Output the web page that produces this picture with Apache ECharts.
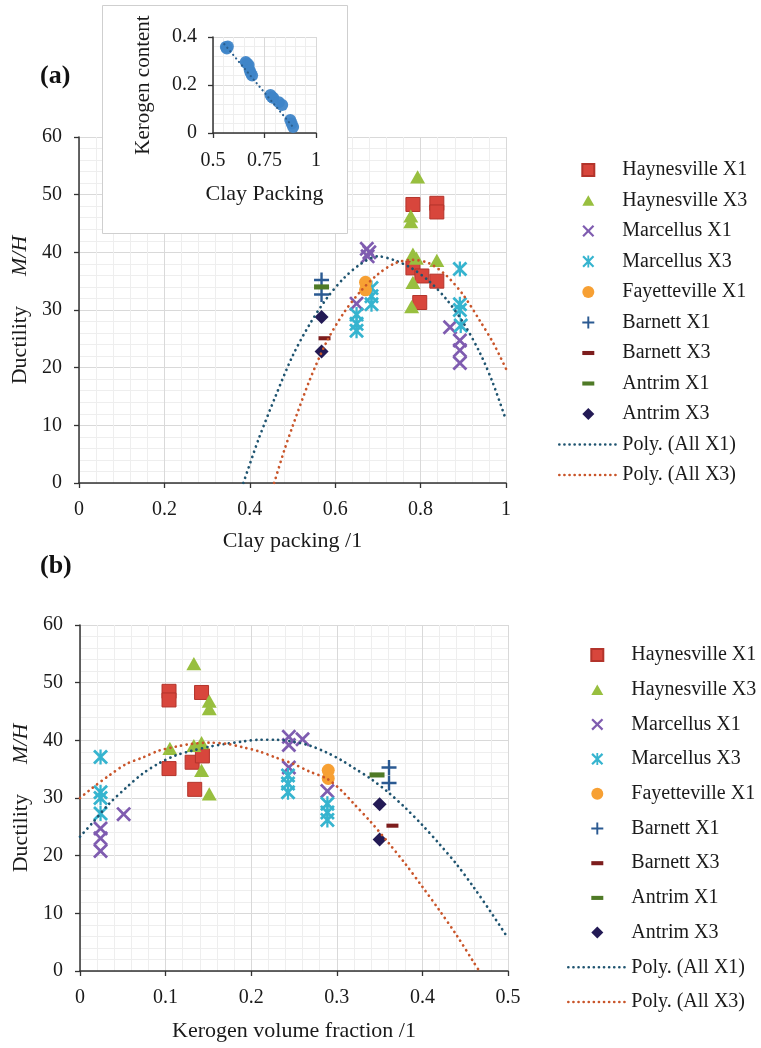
<!DOCTYPE html>
<html><head><meta charset="utf-8">
<script src="https://cdn.jsdelivr.net/npm/echarts@6/dist/echarts.min.js"></script>
<style>html,body{margin:0;padding:0;background:#fff}#c{width:761px;height:1048px}</style>
</head><body><div id="c"></div>
<script>
// ---------- Legend / series names ----------
const seriesNames = ['Haynesville X1','Haynesville X3','Marcellus X1','Marcellus X3','Fayetteville X1','Barnett X1','Barnett X3','Antrim X1','Antrim X3','Poly. (All X1)','Poly. (All X3)'];

// ---------- (a) Ductility vs clay packing ----------
const hayX1_a = [[0.782,48.3],[0.838,48.5],[0.838,47],[0.782,37.3],[0.803,35.9],[0.838,35],[0.798,31.3]];
const hayX3_a = [[0.793,53.1],[0.777,46.3],[0.777,45.3],[0.782,39.7],[0.79,39],[0.838,38.6],[0.782,34.8],[0.779,30.6]];
const marX1_a = [[0.674,40.6],[0.68,40.0],[0.676,39.3],[0.65,31.1],[0.869,27],[0.892,24.7],[0.892,23],[0.892,20.8]];
const marX3_a = [[0.892,37.1],[0.892,31],[0.892,30],[0.894,27.3],[0.685,33.8],[0.685,32.4],[0.685,31],[0.65,29.2],[0.65,27.6],[0.65,26.4]];
const fayX1_a = [[0.671,34.8],[0.671,33.5]];
const barX1_a = [[0.568,35.2],[0.568,32.7]];
const barX3_a = [[0.575,25.1]];
const antX1_a = [[0.568,34]];
const antX3_a = [[0.568,28.8],[0.568,22.8]];
const polyX1_a = [[0.385,0],[0.42,7.5],[0.46,15],[0.5,22],[0.54,27.5],[0.58,32],[0.62,35.5],[0.66,38],[0.70,39.3],[0.74,38.6],[0.78,37.2],[0.82,35],[0.86,31.9],[0.90,27.8],[0.94,22.4],[0.97,17.2],[1.0,10.9]];
const polyX3_a = [[0.457,0],[0.48,5.5],[0.5,9.8],[0.54,17.8],[0.58,24.5],[0.62,29.5],[0.66,33.3],[0.70,36.2],[0.74,38.1],[0.78,38.7],[0.82,38.1],[0.86,36],[0.90,32.6],[0.94,28],[0.97,24.3],[1.0,19.8]];

// ---------- inset: kerogen content vs clay packing ----------
const inset_pts = [[0.5625,0.358],[0.567,0.352],[0.572,0.36],[0.659,0.296],[0.665,0.29],[0.673,0.283],[0.678,0.262],[0.683,0.25],[0.69,0.24],[0.779,0.158],[0.786,0.15],[0.793,0.146],[0.82,0.128],[0.836,0.117],[0.875,0.054],[0.882,0.04],[0.889,0.025]];
const inset_trend = [[0.555,0.37],[0.895,0.018]];

// ---------- (b) Ductility vs kerogen volume fraction ----------
const hayX1_b = [[0.104,48.5],[0.104,47],[0.142,48.3],[0.104,35.1],[0.131,36.2],[0.143,37.3],[0.134,31.5]];
const hayX3_b = [[0.133,53.3],[0.151,46.8],[0.151,45.5],[0.105,38.6],[0.133,39.1],[0.142,39.6],[0.142,34.8],[0.151,30.7]];
const marX1_b = [[0.244,40.6],[0.26,40.2],[0.244,39.2],[0.244,35.3],[0.289,31.2],[0.051,27.2],[0.024,24.7],[0.024,23],[0.024,20.8]];
const marX3_b = [[0.024,37.1],[0.024,31],[0.024,30],[0.024,27.3],[0.243,33.9],[0.243,32.5],[0.243,31],[0.289,29],[0.289,27.5],[0.289,26.2]];
const fayX1_b = [[0.29,34.8],[0.29,33.4]];
const barX1_b = [[0.361,35.3],[0.361,32.6]];
const barX3_b = [[0.365,25.2]];
const antX1_b = [[0.347,34]];
const antX3_b = [[0.35,28.9],[0.35,22.8]];
const polyX1_b = [[0,23.3],[0.014,25.6],[0.034,29],[0.054,31.8],[0.073,34.2],[0.092,36],[0.112,37.4],[0.131,38.2],[0.151,38.9],[0.171,39.4],[0.19,39.8],[0.209,40.1],[0.229,40.1],[0.248,39.8],[0.268,39.1],[0.288,37.9],[0.306,36.5],[0.32,35.2],[0.34,33.3],[0.36,31],[0.38,28.3],[0.4,25.3],[0.42,22],[0.44,18.5],[0.46,14.5],[0.48,10.2],[0.5,5.7]];
const polyX3_b = [[0,30],[0.014,31.7],[0.034,33.9],[0.054,35.9],[0.073,37],[0.092,38.2],[0.112,38.9],[0.131,39.4],[0.151,39.6],[0.171,39.4],[0.19,38.8],[0.209,38.1],[0.229,37],[0.248,36],[0.268,34.6],[0.289,33.3],[0.306,31.2],[0.32,29],[0.34,25.8],[0.36,22.3],[0.38,18.6],[0.4,14.6],[0.42,10.5],[0.44,6.2],[0.46,1.5],[0.4665,0]];

// ---------- styles ----------
const SERIF = 'Liberation Serif';
const SYM_SQ = 'path://M0,0L10,0L10,10L0,10Z';
const SYM_TRI = 'path://M5,0.6L10,9.4L0,9.4ZM0,0M10,10';
const SYM_DIA = 'path://M5,0L10,5L5,10L0,5Z';
const SYM_X = 'path://M0,1.3L1.3,0L5,3.7L8.7,0L10,1.3L6.3,5L10,8.7L8.7,10L5,6.3L1.3,10L0,8.7L3.7,5Z';
const SYM_AST = 'path://M0,1.3L1.3,0L5,3.7L8.7,0L10,1.3L6.3,5L10,8.7L8.7,10L5,6.3L1.3,10L0,8.7L3.7,5ZM4.25,0L5.75,0L5.75,10L4.25,10Z';
const SYM_PLUS = 'path://M4.2,0L5.8,0L5.8,4.2L10,4.2L10,5.8L5.8,5.8L5.8,10L4.2,10L4.2,5.8L0,5.8L0,4.2L4.2,4.2Z';
const SYM_DASH = 'path://M0,0M0,3.3L10,3.3L10,6.7L0,6.7ZM10,10';

const styles = {
  'Haynesville X1': {symbol:SYM_SQ, size:14, color:'#d8463c', border:'#b3342b'},
  'Haynesville X3': {symbol:SYM_TRI, size:15, color:'#98bf3f'},
  'Marcellus X1': {symbol:SYM_X, size:15, color:'#7f5cb0'},
  'Marcellus X3': {symbol:SYM_AST, size:15, color:'#36b4cf'},
  'Fayetteville X1': {symbol:'circle', size:13, color:'#f7a033'},
  'Barnett X1': {symbol:SYM_PLUS, size:15, color:'#2b5a92'},
  'Barnett X3': {symbol:SYM_DASH, size:12, color:'#7d1d1d'},
  'Antrim X1': {symbol:SYM_DASH, size:15, color:'#4f7a26'},
  'Antrim X3': {symbol:SYM_DIA, size:14, color:'#231a55'}
};
const lineColors = {'Poly. (All X1)':'#1f5470', 'Poly. (All X3)':'#c9552a'};

function scatter(name, data, idx) {
  const s = styles[name];
  return {
    type:'scatter', name, data, xAxisIndex:idx, yAxisIndex:idx, z:2,
    symbol:s.symbol, symbolSize:s.size,
    itemStyle:{color:s.color, borderColor:s.border || s.color, borderWidth:s.border ? 1 : 0, opacity:1},
    emphasis:{disabled:true}
  };
}
function trend(name, data, idx) {
  return {
    type:'line', name, data, xAxisIndex:idx, yAxisIndex:idx, z:3,
    symbol:'none', smooth:0.3, silent:true,
    lineStyle:{color:lineColors[name], width:2.7, type:[0.1,5.4], cap:'round'},
    itemStyle:{color:lineColors[name]}
  };
}

const axisText = {fontFamily:SERIF, fontSize:20, color:'#1a1a1a'};
function valueAxis(o) {
  return Object.assign({
    type:'value',
    axisLine:{show:true, onZero:false, lineStyle:{color:'#333', width:1.5}},
    axisTick:{show:true, inside:false, length:5, lineStyle:{color:'#333', width:1.3}},
    axisLabel:Object.assign({margin:17}, axisText),
    splitLine:{show:true, lineStyle:{color:'#d9d9d9', width:1}},
    minorTick:{show:false, splitNumber:5},
    minorSplitLine:{show:true, lineStyle:{color:'#eeeeee', width:1}},
    nameTextStyle:{fontFamily:SERIF, fontSize:22, color:'#1a1a1a'}
  }, o);
}
const ductName = '{a|Ductility}{s|}{b|M/H}';
const ductRich = {
  a:{fontFamily:SERIF, fontSize:22, color:'#1a1a1a'},
  s:{width:30},
  b:{fontFamily:SERIF, fontSize:22, fontStyle:'italic', color:'#1a1a1a'}
};

const series = [
  scatter('Haynesville X1', hayX1_a, 0), scatter('Haynesville X3', hayX3_a, 0),
  scatter('Marcellus X1', marX1_a, 0), scatter('Marcellus X3', marX3_a, 0),
  scatter('Fayetteville X1', fayX1_a, 0), scatter('Barnett X1', barX1_a, 0),
  scatter('Barnett X3', barX3_a, 0), scatter('Antrim X1', antX1_a, 0),
  scatter('Antrim X3', antX3_a, 0),
  trend('Poly. (All X1)', polyX1_a, 0), trend('Poly. (All X3)', polyX3_a, 0),

  scatter('Haynesville X1', hayX1_b, 1), scatter('Haynesville X3', hayX3_b, 1),
  scatter('Marcellus X1', marX1_b, 1), scatter('Marcellus X3', marX3_b, 1),
  scatter('Fayetteville X1', fayX1_b, 1), scatter('Barnett X1', barX1_b, 1),
  scatter('Barnett X3', barX3_b, 1), scatter('Antrim X1', antX1_b, 1),
  scatter('Antrim X3', antX3_b, 1),
  trend('Poly. (All X1)', polyX1_b, 1), trend('Poly. (All X3)', polyX3_b, 1),

  {type:'scatter', name:'inset points', data:inset_pts, xAxisIndex:2, yAxisIndex:2, z:62,
   symbol:'circle', symbolSize:12, itemStyle:{color:'#3f85c8', opacity:0.95}, silent:true},
  {type:'line', name:'inset trend', data:inset_trend, xAxisIndex:2, yAxisIndex:2, z:63,
   symbol:'none', silent:true, lineStyle:{color:'#2a5f8f', width:2.2, type:[0.1,4.5], cap:'round'}}
];

const legendData = seriesNames.map(n => n.indexOf('Poly') === 0
  ? {name:n, itemStyle:{color:'rgba(0,0,0,0)', borderColor:'rgba(0,0,0,0)', borderWidth:0},
     lineStyle:{width:2.6, type:[0.1,5], cap:'round', color:lineColors[n]}}
  : {name:n});

const legendBase = {
  orient:'vertical', padding:0, itemWidth:58, itemHeight:12, selectedMode:false,
  data:legendData, textStyle:{fontFamily:SERIF, fontSize:20, color:'#1a1a1a'}
};

const option = {
  animation:false,
  backgroundColor:'#fff',
  title:[
    {text:'(a)', left:40, top:63, padding:0, textStyle:{fontFamily:SERIF, fontWeight:'bold', fontSize:26, color:'#111'}},
    {text:'(b)', left:40, top:553, padding:0, textStyle:{fontFamily:SERIF, fontWeight:'bold', fontSize:26, color:'#111'}}
  ],
  graphic:[{type:'rect', z:50, shape:{x:102.5, y:5.5, width:245, height:228},
            style:{fill:'#fff', stroke:'#cfcfcf', lineWidth:1}}],
  legend:[
    Object.assign({left:558, top:160, itemGap:10.5}, legendBase),
    Object.assign({left:567, top:645, itemGap:14.7}, legendBase)
  ],
  grid:[
    {left:79, top:137, width:427, height:346},
    {left:80, top:625, width:428, height:346},
    {left:213, top:37, width:103, height:96, z:60}
  ],
  xAxis:[
    valueAxis({gridIndex:0, min:0, max:1, interval:0.2, name:'Clay packing /1', nameLocation:'middle', nameGap:47}),
    valueAxis({gridIndex:1, min:0, max:0.5, interval:0.1, name:'Kerogen volume fraction /1', nameLocation:'middle', nameGap:49}),
    valueAxis({gridIndex:2, min:0.5, max:1, interval:0.25, z:60, name:'Clay Packing', nameLocation:'middle', nameGap:50,
      axisLabel:Object.assign({margin:18}, axisText)})
  ],
  yAxis:[
    valueAxis({gridIndex:0, min:0, max:60, interval:10, name:ductName, nameLocation:'middle', nameGap:44,
      nameTextStyle:{fontFamily:SERIF, fontSize:22, color:'#1a1a1a', rich:ductRich}}),
    valueAxis({gridIndex:1, min:0, max:60, interval:10, name:ductName, nameLocation:'middle', nameGap:45,
      nameTextStyle:{fontFamily:SERIF, fontSize:22, color:'#1a1a1a', rich:ductRich}}),
    valueAxis({gridIndex:2, min:0, max:0.4, interval:0.2, z:60, name:'Kerogen content', nameLocation:'middle', nameGap:59,
      nameTextStyle:{fontFamily:SERIF, fontSize:21, color:'#1a1a1a'},
      axisLabel:Object.assign({margin:16}, axisText)})
  ],
  series
};

const chart = echarts.init(document.getElementById('c'), null, {renderer:'canvas'});
chart.setOption(option);
</script></body></html>
